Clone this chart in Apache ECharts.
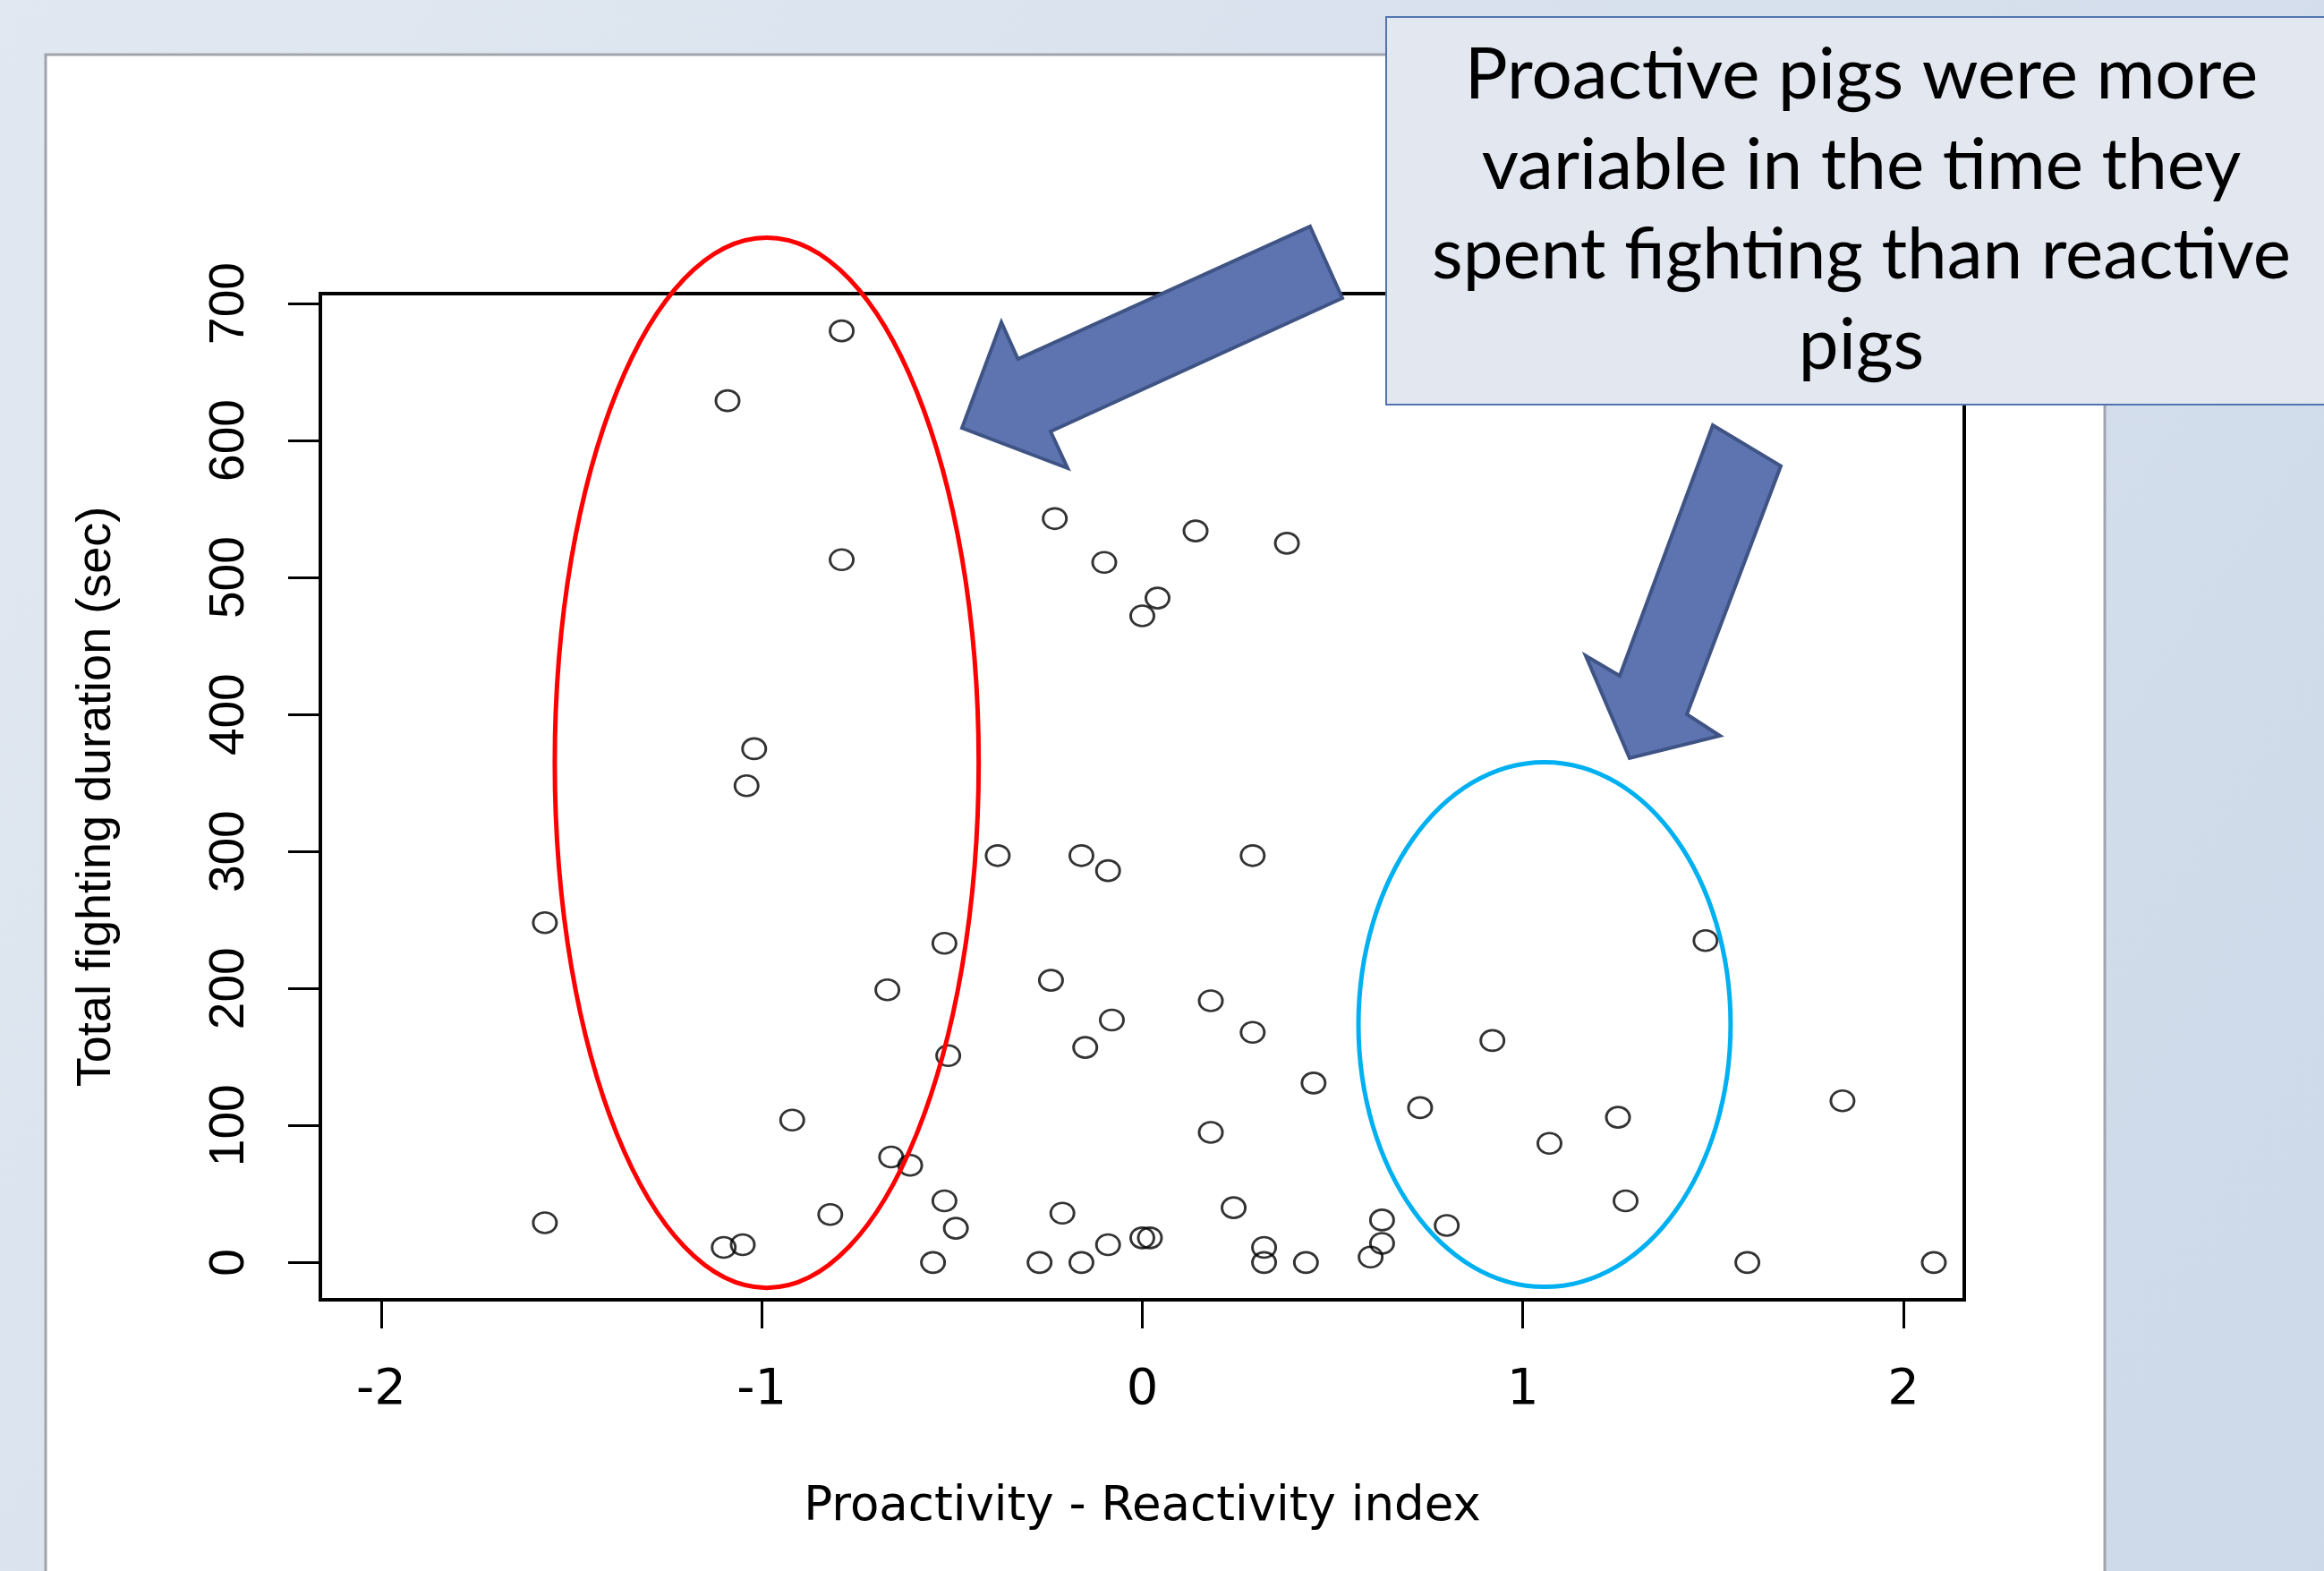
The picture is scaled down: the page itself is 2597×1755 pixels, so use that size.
<!DOCTYPE html>
<html>
<head>
<meta charset="utf-8">
<script src="https://cdn.jsdelivr.net/npm/echarts@6/dist/echarts.min.js"></script>
<style>
html,body{margin:0;padding:0;background:#dfe6f0;}
#c{width:2597px;height:1755px;}
</style>
</head>
<body>
<div id="c"></div>
<script>
// ---- data ----
const proactivityIndex = [-0.79,-1.09,-0.79,-1.02,-1.04,-0.23,0.14,0.38,-0.10,0.04,
  0.00,-1.57,-0.67,-0.92,-0.66,-0.61,-0.82,-1.57,-1.10,-1.05,
  -0.38,-0.16,-0.09,0.29,-0.52,-0.24,0.18,-0.08,0.29,-0.15,
  -0.51,0.45,0.73,0.92,0.18,-0.52,-0.49,-0.55,-0.21,-0.27,
  -0.16,-0.09,0.00,0.02,0.24,0.32,0.32,0.43,0.63,0.63,
  0.60,0.80,1.48,1.25,1.07,1.27,1.84,1.59,2.08];
const fightingDuration = [680,629,513,375,348,543,534,525,511,485,
  472,248,199,104,77,71,35,29,11,13,
  297,297,286,297,233,206,191,177,168,157,
  151,131,113,162,95,45,25,0,36,0,
  0,13,18,18,40,11,0,0,31,14,
  4,27,235,106,87,45,118,0,0];
const xTickValues = [-2,-1,0,1,2];
const yTickValues = [0,100,200,300,400,500,600,700];
const xAxisTitle = 'Proactivity - Reactivity index';
const yAxisTitle = 'Total fighting duration (sec)';
const calloutLines = ['Proactive pigs were more','variable in the time they','spent fighting than reactive','pigs'];

// ---- chart ----
const chart = echarts.init(document.getElementById('c'), null, {renderer:'canvas'});
const points = proactivityIndex.map((x, i) => [x, fightingDuration[i]]);
const sansFont = "'Liberation Sans', Arial, sans-serif";

chart.setOption({
  animation: false,
  backgroundColor: 'transparent',
  grid: {left: 358, top: 328, width: 1837, height: 1124, show: true,
         borderColor: '#000', borderWidth: 4, backgroundColor: '#fff'},
  xAxis: {
    type: 'value', min: -2.16, max: 2.16,
    splitLine: {show: false},
    axisLine: {show: false, onZero: false},
    axisTick: {show: true, length: 32, customValues: xTickValues, lineStyle: {color: '#000', width: 3}},
    axisLabel: {customValues: xTickValues, color: '#000', fontFamily: "'DejaVu Sans', sans-serif",
                fontSize: 56, margin: 73},
    name: xAxisTitle, nameLocation: 'middle', nameGap: 206,
    nameTextStyle: {color: '#000', fontFamily: "'DejaVu Sans', sans-serif", fontSize: 53}
  },
  yAxis: {
    type: 'value', min: -27.2, max: 707.2,
    splitLine: {show: false},
    axisLine: {show: false, onZero: false},
    axisTick: {show: true, length: 36, customValues: yTickValues, lineStyle: {color: '#000', width: 3}},
    axisLabel: {customValues: yTickValues, rotate: 90, color: '#000', fontFamily: sansFont,
                fontSize: 55, margin: 74},
    name: yAxisTitle, nameLocation: 'middle', nameGap: 223,
    nameTextStyle: {color: '#000', fontFamily: sansFont, fontSize: 54}
  },
  series: [{
    type: 'scatter',
    data: points,
    symbol: 'path://M0,50A50,50,0,1,1,100,50A50,50,0,1,1,0,50Z',
    symbolSize: [26, 23],
    itemStyle: {color: 'rgba(0,0,0,0)', borderColor: '#000', borderWidth: 2.8},
    silent: true,
    z: 5
  }]
});

// ---- slide annotations ----
function ellipseFromData(cx, cy, rx, ry) {
  const c = chart.convertToPixel({gridIndex: 0}, [cx, cy]);
  const px = chart.convertToPixel({gridIndex: 0}, [cx + rx, cy]);
  const py = chart.convertToPixel({gridIndex: 0}, [cx, cy + ry]);
  return {cx: c[0], cy: c[1], rx: Math.abs(px[0] - c[0]), ry: Math.abs(c[1] - py[1])};
}
const redShape = ellipseFromData(-0.987, 364.8, 0.557, 383.3);
const blueShape = ellipseFromData(1.057, 173.7, 0.489, 191.5);

const arrowFill = '#5E74B1', arrowStroke = '#3F5485';
chart.setOption({
  graphic: [
    {type: 'rect', id: 'bg', z: -30, silent: true,
     shape: {x: 0, y: 0, width: 2597, height: 1755},
     style: {fill: new echarts.graphic.LinearGradient(0, 0, 1, 1, [
       {offset: 0, color: '#E1E8F1'}, {offset: 1, color: '#CDD9E9'}])}},
    {type: 'rect', id: 'panel', z: -29, silent: true,
     shape: {x: 51, y: 61, width: 2301, height: 1760},
     style: {fill: '#ffffff', stroke: '#A0A5AD', lineWidth: 3}},
    {type: 'ellipse', id: 'red', z: 50, silent: true, shape: redShape,
     style: {fill: 'none', stroke: '#FF0000', lineWidth: 5}},
    {type: 'ellipse', id: 'blue', z: 50, silent: true, shape: blueShape,
     style: {fill: 'none', stroke: '#00B0F0', lineWidth: 5}},
    {type: 'polygon', id: 'arrow1', z: 60, silent: true,
     shape: {points: [[1464,253],[1500,333],[1174,482],[1193,523],[1075,478],[1119,360],[1137.5,401]]},
     style: {fill: arrowFill, stroke: arrowStroke, lineWidth: 4}},
    {type: 'polygon', id: 'arrow2', z: 60, silent: true,
     shape: {points: [[1914,475],[1990,520.5],[1885,798],[1922,822],[1821,847],[1772,732.5],[1810,755]]},
     style: {fill: arrowFill, stroke: arrowStroke, lineWidth: 4}},
    {type: 'rect', id: 'callout', z: 70, silent: true,
     shape: {x: 1549, y: 19, width: 1080, height: 433},
     style: {fill: '#E2E7F0', stroke: '#5174B0', lineWidth: 2}},
    {type: 'text', id: 'calloutText', z: 71, silent: true,
     style: {text: calloutLines.join('\n'), x: 2080, y: 34, align: 'center', verticalAlign: 'top',
             fontFamily: 'Lato, sans-serif', fontSize: 80, lineHeight: 100.5, fill: '#000'}}
  ]
});
</script>
</body>
</html>
